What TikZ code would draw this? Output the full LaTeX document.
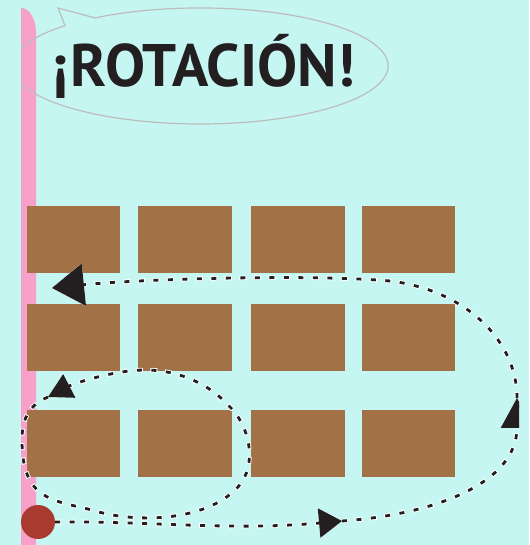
\documentclass[tikz,border=0pt]{standalone}
\usepackage{fontspec}
\newfontfamily\fuenteTitulo{PT Sans}
\usetikzlibrary{arrows.meta}
\definecolor{CianFondo}{HTML}{C6F6F2}
\definecolor{RosaBarra}{HTML}{F7A1CA}
\definecolor{MarronCaja}{HTML}{A27146}
\definecolor{RojoPunto}{HTML}{A83A30}
\definecolor{NegroTexto}{HTML}{231F20}
\definecolor{GrisGlobo}{HTML}{BDBDBD}

\tikzset{
    caja/.style={
        fill=MarronCaja,
        minimum width=93.5pt,
        minimum height=67pt,
        inner sep=0pt
    },
    ruta/.style={
        draw=NegroTexto,
        line width=2.8pt,
        dash pattern=on 5pt off 9.5pt,
        arrows={-#1},
        preaction={draw=white, line width=4.6pt,
            dash pattern=on 7pt off 7.5pt, dash phase=1pt, arrows={-#1}}
    }
}

\begin{document}
\begin{tikzpicture}[x=1pt, y=1pt]
    \useasboundingbox (0,0) rectangle (529,545);
    \fill[CianFondo] (0,0) rectangle (529,545);
    % barra rosa
    \fill[RosaBarra] (21,0) -- (21,537)
        .. controls (30,537) and (36,525) .. (36,513) -- (36,0) -- cycle;
    % globo
    \coordinate (bocaIzq) at (65,519.4);
    \coordinate (punta) at (58,537);
    \coordinate (bocaDer) at (95,527.1);
    \begin{scope}
        \clip (21,400) rectangle (529,545);
        \draw[GrisGlobo, line width=1.2pt] (bocaIzq) -- (punta) -- (bocaDer)
            arc[start angle=124, end angle=-224, x radius=188, y radius=58] -- cycle;
    \end{scope}
    \node[
        font=\fuenteTitulo\bfseries\fontsize{60}{60}\selectfont,
        text=NegroTexto,
        anchor=base,
        inner sep=0pt
    ] (titulo) at (204,458) {¡ROTACIÓN!};
    % cajas
    \foreach \fila/\y in {1/305,2/207,3/101}
        \foreach \col/\x in {1/73.5,2/185,3/298,4/408.5}
            \node[caja] (caja\fila\col) at (\x,\y) {};
    \node[circle, fill=RojoPunto, minimum size=34pt, inner sep=0pt] (inicio) at (38,23) {};
    % flechas
    \coordinate (flechaA) at (342,24);
    \coordinate (flechaB) at (517,147);
    \coordinate (flechaC) at (52,257);
    \coordinate (flechaD) at (48,148);
    \draw[ruta={Triangle[length=23pt, width=29pt]}] (inicio.east)
        .. controls (150,24) and (230,14) .. (flechaA);
    \begin{scope}
        \clip (0,0) rectangle (519,545);
        \draw[ruta={Triangle[length=30pt, width=32pt]}] (flechaA)
            .. controls (430,30) and (517,60) .. (flechaB);
    \end{scope}
    \draw[ruta={Triangle[length=32pt, width=42pt]}] (flechaB)
        .. controls (517,205) and (465,255) .. (390,264)
        .. controls (310,271) and (140,266) .. (flechaC);
    \draw[ruta={Triangle[length=24pt, width=26pt]}] (flechaD)
        .. controls (30,140) and (22,128) .. (22,105)
        .. controls (22,45) and (52,45) .. (92,35)
        .. controls (132,22) and (205,22) .. (238,58)
        .. controls (258,80) and (250,120) .. (228,140)
        .. controls (210,160) and (180,175) .. (145,175)
        .. controls (115,175) and (75,162) .. (flechaD);
\end{tikzpicture}
\end{document}
